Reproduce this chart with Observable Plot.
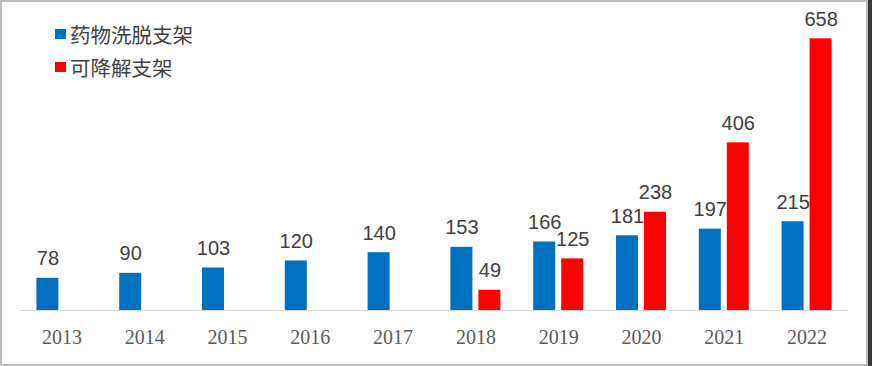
<!DOCTYPE html>
<html>
<head>
<meta charset="utf-8">
<script src="https://cdn.jsdelivr.net/npm/d3@7"></script>
<script src="https://cdn.jsdelivr.net/npm/@observablehq/plot@0.6"></script>
<style>
  html, body { margin: 0; padding: 0; background: #ffffff; }
  #wrap { position: relative; width: 872px; height: 366px; overflow: hidden; background: #ffffff; }
  #chart { position: absolute; left: 0; top: 0; }
  .frame { position: absolute; left: 0; top: 0; width: 868px; height: 366px; box-sizing: border-box; border: 2px solid #bdbdbd; pointer-events: none; }
  .edge { position: absolute; left: 868px; top: 0; width: 4px; height: 366px; background: #3a3a3a; }
  .sw { position: absolute; width: 11px; height: 10px; }
  .lt { position: absolute; font-family: "Noto Sans CJK SC", sans-serif; font-size: 20.5px; line-height: 20px; color: #404040; white-space: nowrap; }
</style>
</head>
<body>
<div id="wrap">
  <div id="chart"></div>
  <div class="sw" style="left:55px; top:29px; background:#0070C0"></div>
  <div class="lt" style="left:70px; top:24px">药物洗脱支架</div>
  <div class="sw" style="left:55px; top:62px; background:#FF0000"></div>
  <div class="lt" style="left:70px; top:57px">可降解支架</div>
  <div class="frame"></div>
  <div class="edge"></div>
</div>
<script>
const years = ["2013","2014","2015","2016","2017","2018","2019","2020","2021","2022"];
const seriesNames = ["药物洗脱支架", "可降解支架"];
const desValues = [78, 90, 103, 120, 140, 153, 166, 181, 197, 215];
const bioValues = [null, null, null, null, null, 49, 125, 238, 406, 658];
const seriesColors = ["#0070C0", "#FF0000"];

const rows = [];
years.forEach((yr, i) => {
  if (desValues[i] != null) rows.push({year: yr, series: seriesNames[0], value: desValues[i]});
  if (bioValues[i] != null) rows.push({year: yr, series: seriesNames[1], value: bioValues[i]});
});

const chart = Plot.plot({
  width: 872,
  height: 366,
  marginLeft: 20,
  marginRight: 24,
  marginTop: 21,
  marginBottom: 56,
  style: {background: "transparent", overflow: "visible"},
  fx: {domain: years, padding: 0, round: false, label: null},
  x: {domain: seriesNames, paddingInner: 0.214, paddingOuter: 0.586, round: false, axis: null},
  y: {domain: [0, 700], axis: null},
  color: {domain: seriesNames, range: seriesColors},
  marks: [
    Plot.barY(rows, {fx: "year", x: "series", y: "value", fill: "series"}),
    Plot.ruleY([0], {stroke: "#d9d9d9", strokeWidth: 1}),
    Plot.text(rows, {fx: "year", x: "series", y: "value", text: d => String(d.value),
      lineAnchor: "bottom", dy: -13, fontSize: 20, fontFamily: "Liberation Sans, Arial, sans-serif", fill: "#404040"}),
    Plot.axisFx({anchor: "bottom", tickSize: 0, tickPadding: 19, fontSize: 20,
      fontFamily: "Liberation Serif, serif", color: "#595959", label: null})
  ]
});
document.getElementById("chart").appendChild(chart);
</script>
</body>
</html>
